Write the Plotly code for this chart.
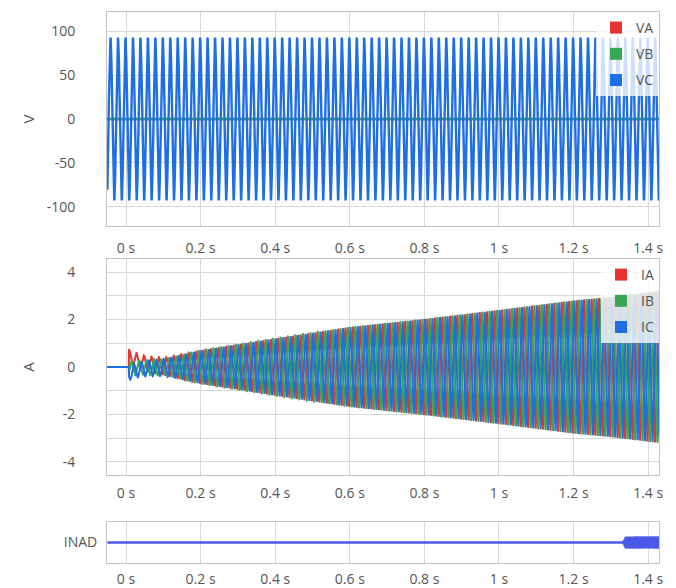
import numpy as np
import plotly.graph_objects as go

# ---------------- data ----------------
t_start, t_end, dt = -0.05, 1.43, 0.0005   # recording window (s) and sample step
freq_hz = 50.0                             # mains frequency

# voltages: only VC carries a waveform, VA and VB sit on zero
v_names = ["VA", "VB", "VC"]
v_peak = [0.0, 0.0, 93.0]
v_phase_deg = [0.0, -120.0, 120.0]

# currents: start of the event, amplitude envelope and decaying DC offsets
i_names = ["IA", "IB", "IC"]
i_start = 0.008
i_env_t = [0.008, 0.10, 0.20, 0.40, 0.60, 0.80, 1.00, 1.20, 1.30, 1.43]
i_env_amp = [0.30, 0.35, 0.70, 1.20, 1.68, 2.02, 2.40, 2.80, 2.95, 3.20]
i_phase_deg = [90.0, -30.0, 210.0]
i_dc0 = [0.45, -0.05, -0.25]
i_dc_tau = 0.04

# INAD status trace: flat, then a narrow band after this time
inad_on = 1.332
inad_ramp = 0.008
inad_band = 0.30

x_ticks = [0, 0.2, 0.4, 0.6, 0.8, 1.0, 1.2, 1.4]
x_ticklabels = ["0 s", "0.2 s", "0.4 s", "0.6 s", "0.8 s", "1 s", "1.2 s", "1.4 s"]
v_ticks = [-100, -50, 0, 50, 100]
v_ticklabels = ["-100", "-50", "0", "50", "100"]
i_ticks = [-4, -2, 0, 2, 4]
i_ticklabels = ["-4", "-2", "0", "2", "4"]

colors = ["#e8322e", "#34a853", "#1e6ee6"]
inad_color = "#4a5ae6"

# ---------------- build the sampled signals ----------------
t = np.arange(t_start, t_end + dt / 2, dt)
w = 2 * np.pi * freq_hz

fig = go.Figure()

for name, pk, ph, c in zip(v_names, v_peak, v_phase_deg, colors):
    y = pk * np.sin(w * t + np.radians(ph))
    fig.add_trace(go.Scatter(x=t, y=y, mode="lines", line=dict(color=c, width=2.4),
                             name=name, legendgroup=name, showlegend=False,
                             xaxis="x", yaxis="y", hoverinfo="skip"))

env = np.interp(t, i_env_t, i_env_amp)
on = t >= i_start
for name, ph, d0, c in zip(i_names, i_phase_deg, i_dc0, colors):
    dc = d0 * np.exp(-(t - i_start) / i_dc_tau)
    y = np.where(on, env * np.sin(w * (t - i_start) + np.radians(ph)) + dc, 0.0)
    fig.add_trace(go.Scatter(x=t, y=y, mode="lines", line=dict(color=c, width=2.0),
                             name=name, legendgroup=name, showlegend=False,
                             xaxis="x2", yaxis="y2", hoverinfo="skip"))

band = inad_band * np.clip((t - inad_on) / inad_ramp, 0, 1)
inad = band * np.cos(2 * np.pi * 470 * t)
fig.add_trace(go.Scatter(x=t, y=inad, mode="lines", line=dict(color=inad_color, width=2.5),
                         name="INAD", showlegend=False, xaxis="x3", yaxis="y3",
                         hoverinfo="skip"))

# legend entries with square swatches
for names, leg in ((v_names, "legend"), (i_names, "legend2")):
    for name, c in zip(names, colors):
        fig.add_trace(go.Scatter(x=[None], y=[None], mode="markers",
                                 marker=dict(symbol="square", size=9, color=c),
                                 name=name, legendgroup=name, legend=leg,
                                 xaxis="x" if leg == "legend" else "x2",
                                 yaxis="y" if leg == "legend" else "y2"))

# ---------------- layout ----------------
FONT = "Open Sans, Noto Sans, sans-serif"
grid = "#d8d8d8"
border = "#c4c4c4"
tick_col = "#555555"
x_range = [-0.051, 1.429]

def xaxis(anchor, standoff):
    return dict(anchor=anchor, domain=[0, 1], range=x_range, tickvals=x_ticks,
                ticktext=x_ticklabels, showgrid=True, gridcolor=grid, gridwidth=1,
                showline=True, mirror=True, linecolor=border, linewidth=1,
                zeroline=False, ticks="", ticklabelstandoff=standoff, automargin=False,
                tickfont=dict(size=14, color=tick_col))

legend_style = dict(x=1, xanchor="right", yanchor="top", bgcolor="rgba(255,255,255,0.78)",
                    borderwidth=0, font=dict(size=14, color=tick_col, family=FONT),
                    tracegroupgap=5, itemsizing="constant")

# the page body adds an 8 px margin, so the figure is drawn 8 px in from the window edge
fig.update_layout(
    width=660, height=580,
    margin=dict(l=99, r=9, t=4, b=25),
    paper_bgcolor="white", plot_bgcolor="white",
    font=dict(family=FONT, size=14, color=tick_col),
    xaxis=xaxis("y", 9), xaxis2=xaxis("y2", 5), xaxis3=xaxis("y3", 3),
    yaxis=dict(anchor="x", domain=[0.6116, 1.0], range=[-122, 122], automargin=False,
               tickvals=v_ticks, ticktext=v_ticklabels, showgrid=True, gridcolor=grid,
               zeroline=True, zerolinecolor="#2f7f8a", zerolinewidth=2,
               showline=True, mirror=True, linecolor=border,
               ticklabelstandoff=28, tickfont=dict(size=14, color=tick_col),
               title=dict(text="V", standoff=8, font=dict(size=15, color=tick_col))),
    yaxis2=dict(anchor="x2", domain=[0.1597, 0.5517], range=[-4.55, 4.55], automargin=False,
                tickvals=i_ticks, ticktext=i_ticklabels, showgrid=True, gridcolor=grid,
                minor=dict(tickvals=[-3, -1, 1, 3], showgrid=True, gridcolor=grid),
                zeroline=False, showline=True, mirror=True, linecolor=border,
                ticklabelstandoff=28, tickfont=dict(size=14, color=tick_col),
                title=dict(text="A", standoff=24, font=dict(size=15, color=tick_col))),
    yaxis3=dict(anchor="x3", domain=[0.0, 0.0744], range=[-1, 1], automargin=False,
                tickvals=[0], ticktext=["INAD"], showgrid=False, zeroline=False,
                showline=True, mirror=True, linecolor=border,
                ticklabelstandoff=6, tickfont=dict(size=14, color=tick_col)),
    legend=dict(y=1.0, **legend_style),
    legend2=dict(y=0.5517, **legend_style),
)

fig.write_html("out.html")
